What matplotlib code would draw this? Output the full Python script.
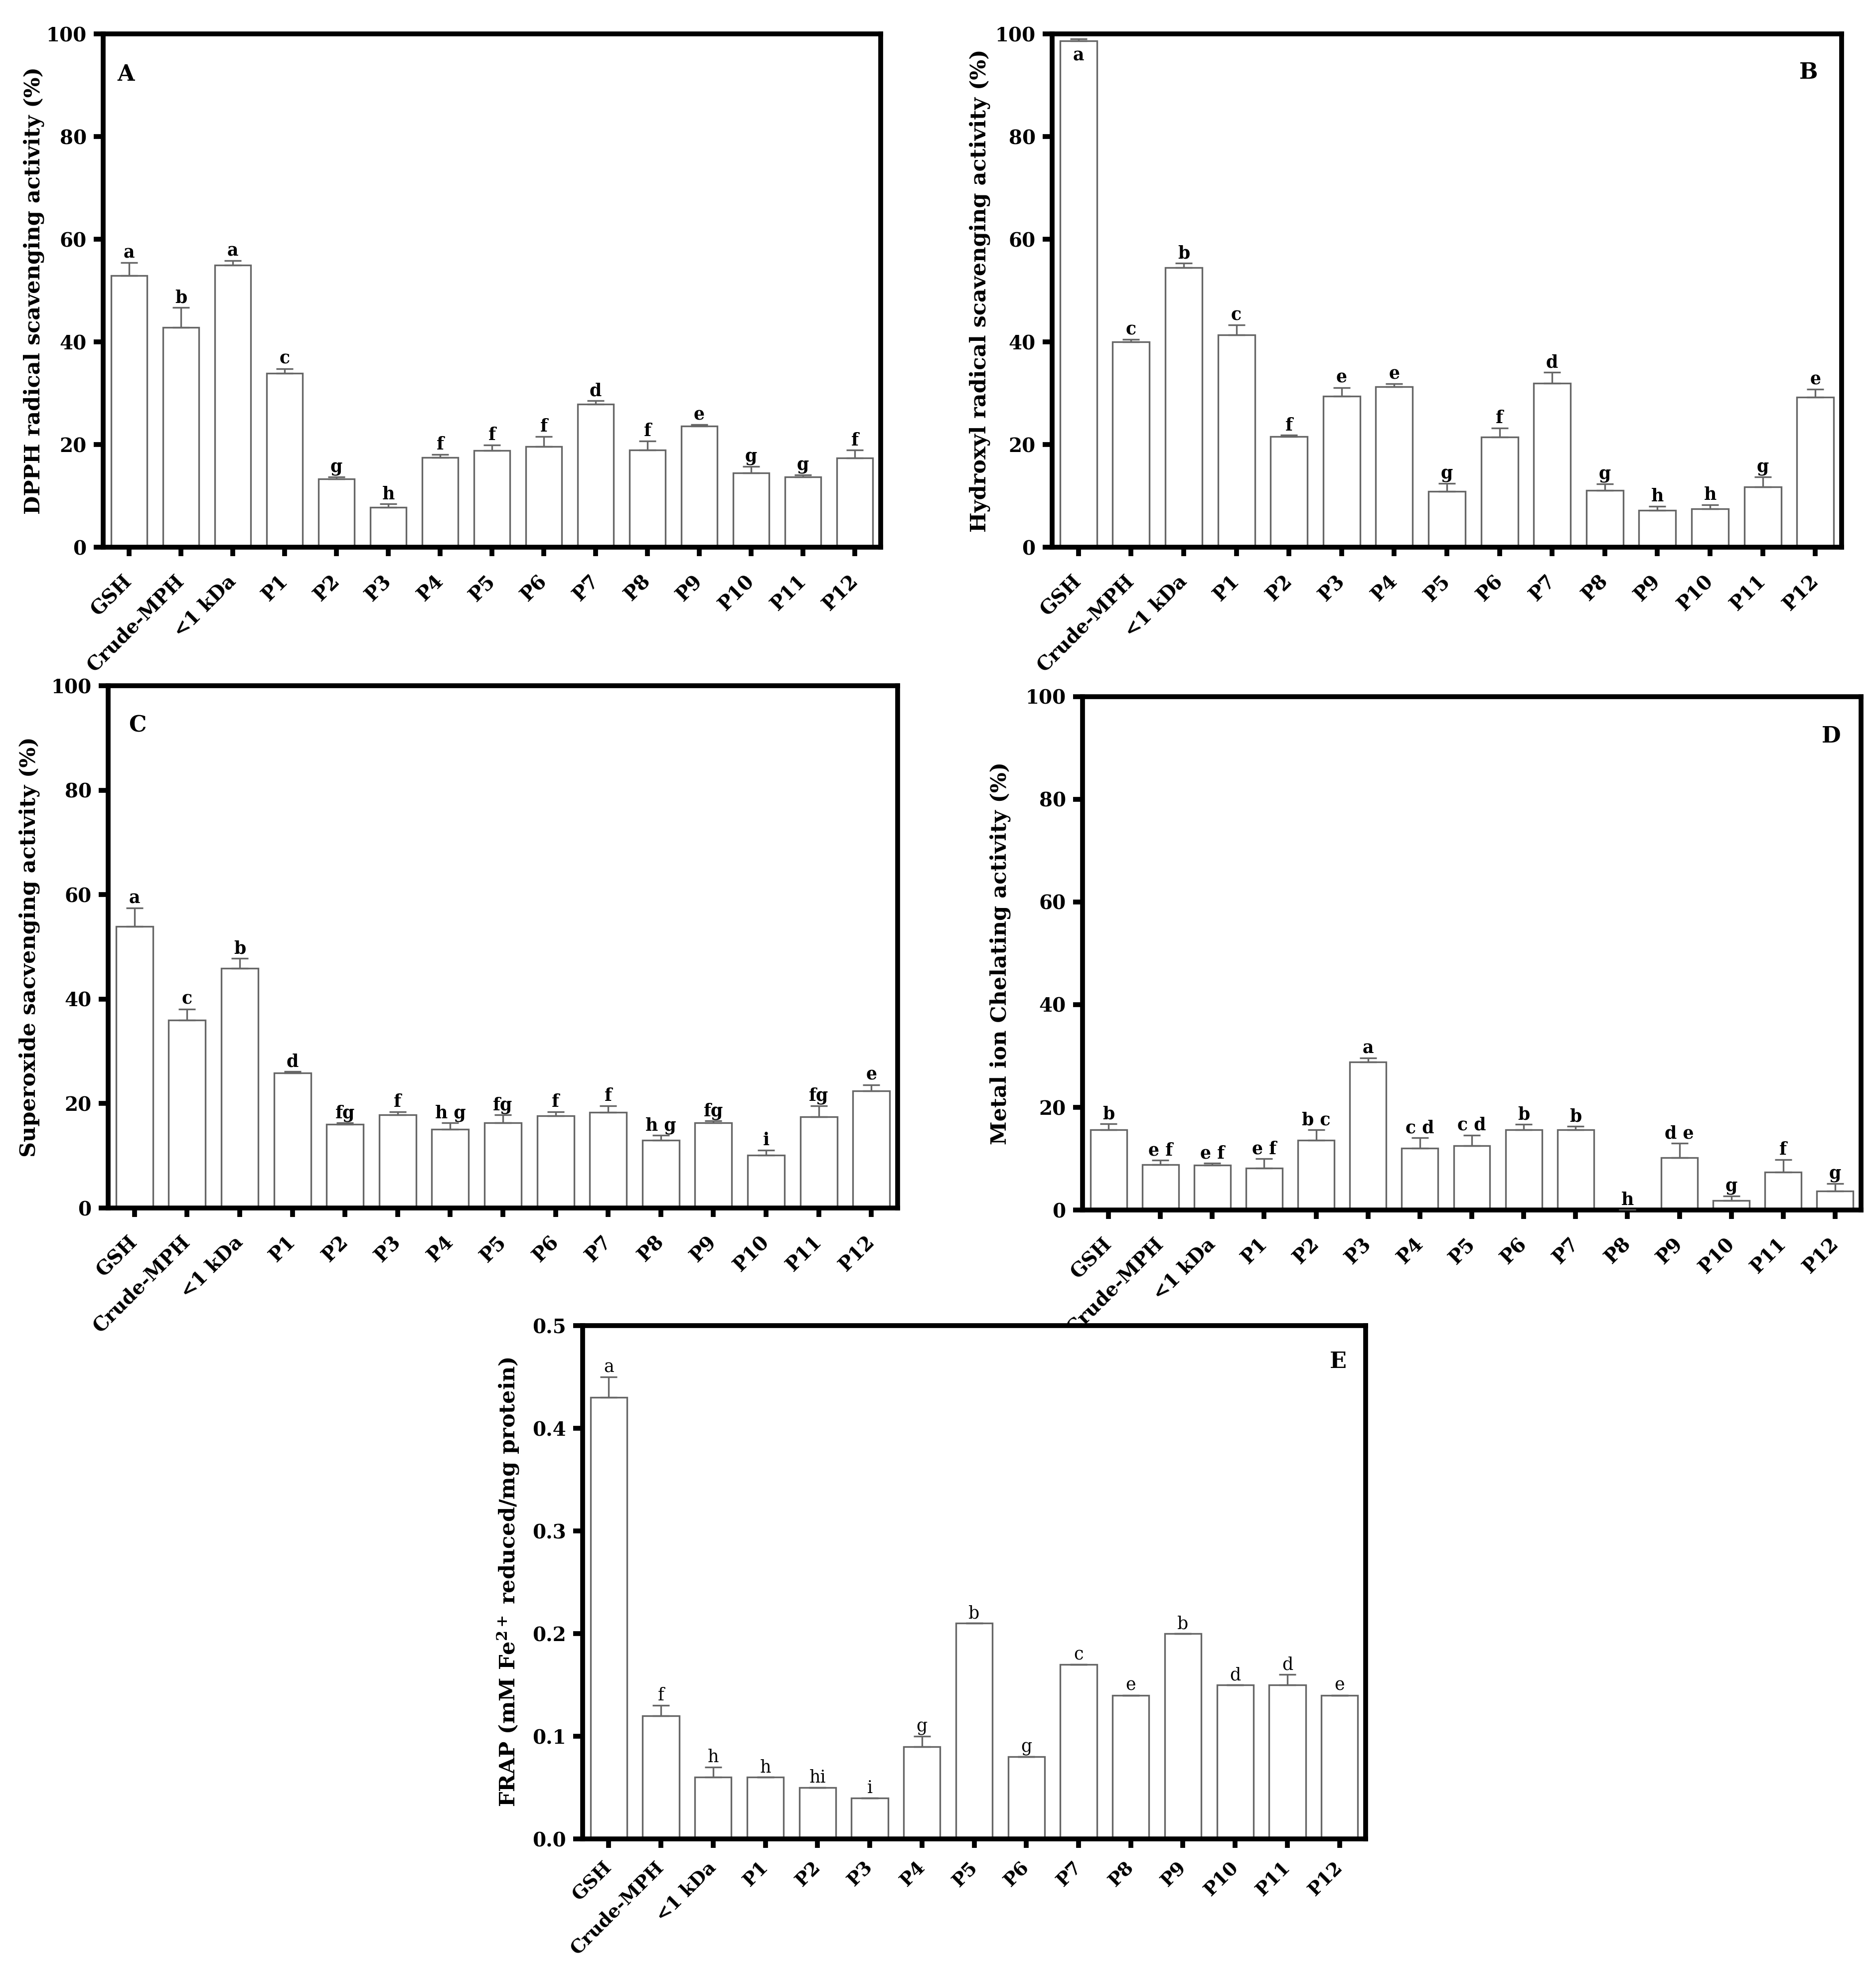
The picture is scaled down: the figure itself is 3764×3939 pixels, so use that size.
import matplotlib
matplotlib.use("Agg")
import matplotlib.pyplot as plt
import numpy as np

plt.rcParams['font.family'] = ['DejaVu Serif']
plt.rcParams['mathtext.fontset'] = 'dejavuserif'

categories = ['GSH', 'Crude-MPH', '<1 kDa', 'P1', 'P2', 'P3', 'P4', 'P5',
              'P6', 'P7', 'P8', 'P9', 'P10', 'P11', 'P12']

# Panel A - DPPH radical scavenging (%)
dpph_mean = [52.9, 42.8, 55.0, 33.9, 13.3, 7.8, 17.5, 18.8, 19.6, 27.9, 18.9, 23.6, 14.5, 13.7, 17.4]
dpph_err = [2.5, 3.9, 0.8, 0.9, 0.4, 0.6, 0.6, 1.1, 2.0, 0.6, 1.8, 0.3, 1.2, 0.4, 1.5]
dpph_letters = ['a', 'b', 'a', 'c', 'g', 'h', 'f', 'f', 'f', 'd', 'f', 'e', 'g', 'g', 'f']

# Panel B - Hydroxyl radical scavenging (%)
hydroxyl_mean = [98.6, 40.0, 54.5, 41.4, 21.6, 29.4, 31.3, 10.9, 21.5, 31.9, 11.1, 7.2, 7.5, 11.7, 29.2]
hydroxyl_err = [0.4, 0.5, 0.8, 1.9, 0.2, 1.7, 0.5, 1.5, 1.7, 2.2, 1.2, 0.8, 0.8, 2.0, 1.6]
hydroxyl_letters = ['a', 'c', 'b', 'c', 'f', 'e', 'e', 'g', 'f', 'd', 'g', 'h', 'h', 'g', 'e']

# Panel C - Superoxide scavenging (%)
superoxide_mean = [53.9, 36.0, 45.9, 25.9, 16.0, 17.8, 15.1, 16.3, 17.7, 18.3, 13.0, 16.3, 10.1, 17.5, 22.4]
superoxide_err = [3.5, 2.1, 1.9, 0.2, 0.3, 0.6, 1.2, 1.5, 0.7, 1.3, 0.9, 0.4, 1.0, 2.1, 1.2]
superoxide_letters = ['a', 'c', 'b', 'd', 'fg', 'f', 'h g', 'fg', 'f', 'f', 'h g', 'fg', 'i', 'fg', 'e']

# Panel D - Metal ion chelating (%)
metal_mean = [15.6, 8.8, 8.7, 8.2, 13.6, 28.8, 12.0, 12.5, 15.6, 15.6, 0.0, 10.2, 1.85, 7.4, 3.7]
metal_err = [1.2, 0.9, 0.4, 1.8, 2.0, 0.8, 2.1, 2.1, 1.1, 0.7, 0.0, 2.8, 0.85, 2.4, 1.4]
metal_letters = ['b', 'e f', 'e f', 'e f', 'b c', 'a', 'c d', 'c d', 'b', 'b', 'h', 'd e', 'g', 'f', 'g']

# Panel E - FRAP (mM Fe2+ reduced / mg protein)
frap_mean = [0.43, 0.12, 0.06, 0.06, 0.05, 0.04, 0.09, 0.21, 0.08, 0.17, 0.14, 0.20, 0.15, 0.15, 0.14]
frap_err = [0.02, 0.01, 0.01, 0.0, 0.0, 0.0, 0.01, 0.0, 0.0, 0.0, 0.0, 0.0, 0.0, 0.01, 0.0]
frap_letters = ['a', 'f', 'h', 'h', 'hi', 'i', 'g', 'b', 'g', 'c', 'e', 'b', 'd', 'd', 'e']

pct_ticks = [0, 20, 40, 60, 80, 100]
frap_ticks = [0.0, 0.1, 0.2, 0.3, 0.4, 0.5]

W, H = 3764, 3939
fig = plt.figure(figsize=(W / 100, H / 100), dpi=100)

EDGE = '#666666'


def add_axes_px(l, r, t, b):
    return fig.add_axes([l / W, 1 - b / H, (r - l) / W, (b - t) / H])


def panel(rect, means, errs, letters, ylabel, yticks, ticklabels, tag, tagpos,
          labelx, letter_weight='bold', xpad=32, xfs=28):
    ax = add_axes_px(*rect)
    x = np.arange(len(categories))
    ax.bar(x, means, width=0.7, color='white', edgecolor=EDGE, linewidth=2.4, zorder=2)
    ax.errorbar(x, means, yerr=[np.zeros(len(errs)), errs], fmt='none', ecolor=EDGE,
                elinewidth=2.4, capsize=12, capthick=2.4, zorder=3)
    ymax = yticks[-1]
    for xi, m, e, lab in zip(x, means, errs, letters):
        top = m + e
        if top > 0.95 * ymax:
            ax.annotate(lab, xy=(xi, top), xytext=(0, -12), textcoords='offset points',
                        ha='center', va='top', fontsize=25, fontweight=letter_weight)
        else:
            ax.annotate(lab, xy=(xi, top), xytext=(0, 7), textcoords='offset points',
                        ha='center', va='baseline', fontsize=25, fontweight=letter_weight)
    ax.set_xlim(-0.5, len(categories) - 0.5)
    ax.set_ylim(yticks[0], ymax)
    ax.set_yticks(yticks)
    ax.set_yticklabels(ticklabels, fontsize=28, fontweight='bold')
    ax.set_xticks(x)
    ax.set_xticklabels(categories, fontsize=xfs, fontweight='bold', rotation=45,
                       ha='right', va='center', rotation_mode='anchor')
    for sp in ax.spines.values():
        sp.set_linewidth(7)
        sp.set_color('black')
    ax.tick_params(axis='y', length=14, width=7, pad=10, direction='out')
    ax.tick_params(axis='x', length=13, width=7, pad=xpad, direction='out')
    ax.set_ylabel(ylabel, fontsize=31, fontweight='bold', va='center')
    ax.yaxis.set_label_coords(labelx, 0.5)
    ax.text(tagpos[0], tagpos[1], tag, transform=ax.transAxes, fontsize=32,
            fontweight='bold', ha='center', va='center')
    return ax


pct_labels = [str(t) for t in pct_ticks]
frap_labels = ['%.1f' % t for t in frap_ticks]

panel((207, 1767, 68, 1098), dpph_mean, dpph_err, dpph_letters,
      'DPPH radical scavenging activity (%)', pct_ticks, pct_labels,
      'A', (0.0295, 0.921), -0.089)
panel((2111, 3695, 68, 1098), hydroxyl_mean, hydroxyl_err, hydroxyl_letters,
      'Hydroxyl radical scavenging activity (%)', pct_ticks, pct_labels,
      'B', (0.958, 0.925), -0.0915)
panel((217, 1801, 1376, 2424), superoxide_mean, superoxide_err, superoxide_letters,
      'Superoxide sacvenging activity (%)', pct_ticks, pct_labels,
      'C', (0.037, 0.924), -0.0997)
panel((2172, 3734, 1398, 2428), metal_mean, metal_err, metal_letters,
      'Metal ion Chelating activity (%)', pct_ticks, pct_labels,
      'D', (0.962, 0.923), -0.106)
panel((1169, 2740, 2660, 3690), frap_mean, frap_err, frap_letters,
      r'FRAP (mM Fe$^{\mathbf{2+}}$ reduced/mg protein)', frap_ticks, frap_labels,
      'E', (0.965, 0.93), -0.095, letter_weight='normal', xpad=24, xfs=27)

fig.savefig('out.png', dpi=100, facecolor='white')
